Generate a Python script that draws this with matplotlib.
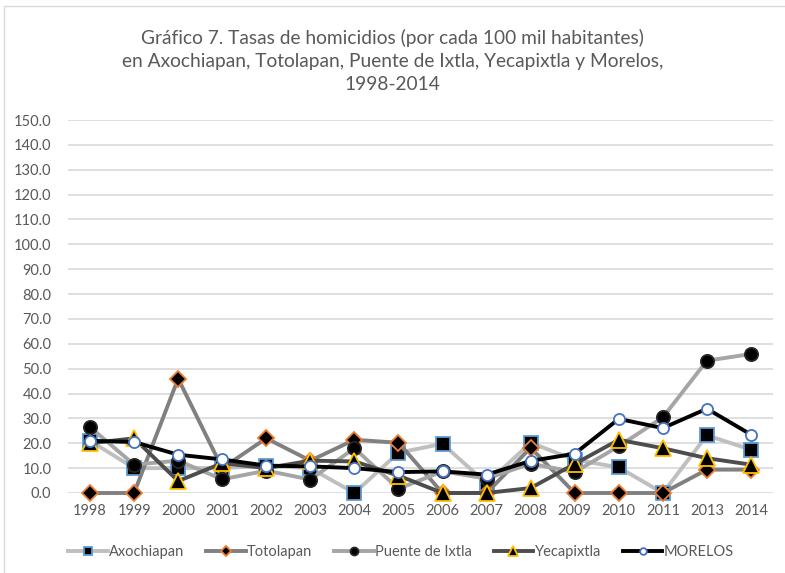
"""
Gráfico 7: tasas de homicidios por municipio, 1998-2014.
"""

import matplotlib
matplotlib.use('Agg')
import matplotlib.pyplot as plt
from matplotlib.patches import Rectangle

# Data
years = ['1998', '1999', '2000', '2001', '2002', '2003', '2004', '2005',
         '2006', '2007', '2008', '2009', '2010', '2011', '2013', '2014']

axochiapan = [21.0, 10.0, 10.0, 10.0, 11.0, 10.0, 0.0, 16.2,
              19.8, 3.8, 20.2, 13.4, 10.3, 0.0, 23.2, 17.4]
totolapan = [0.0, 0.0, 46.0, 10.0, 22.0, 13.0, 21.4, 20.2,
             0.0, 0.0, 18.2, 0.0, 0.0, 0.0, 9.4, 9.4]
puente_de_ixtla = [26.5, 11.4, 13.0, 5.5, 9.0, 5.4, 18.0, 1.7,
                   8.7, 5.8, 11.8, 8.4, 18.8, 30.4, 53.2, 55.9]
yecapixtla = [20.0, 22.0, 4.8, 12.0, 10.0, 13.0, 12.7, 7.0,
              0.0, 0.0, 2.0, 11.7, 21.4, 18.0, 14.0, 11.4]
morelos = [21.0, 20.5, 15.4, 13.5, 11.0, 10.7, 10.0, 8.4,
           8.7, 7.4, 12.9, 15.8, 29.8, 26.1, 33.9, 23.5]

y_ticks = list(range(0, 151, 10))

plt.rcParams['font.family'] = ['Lato', 'DejaVu Sans']

fig = plt.figure(figsize=(7.85, 5.73), dpi=100)
ax = fig.add_axes([68 / 785, 80 / 573, 705 / 785, 373 / 573])

x = list(range(len(years)))

# (values, label, line colour, marker, marker size, face, edge)
series = [
    (axochiapan, 'Axochiapan', '#BFBFBF', 's', 10.5, 'black', '#5B9BD5'),
    (totolapan, 'Totolapan', '#808080', 'D', 8.5, 'black', '#ED7D31'),
    (puente_de_ixtla, 'Puente de Ixtla', '#A5A5A5', 'o', 9.5, 'black', '#262626'),
    (yecapixtla, 'Yecapixtla', '#4D4D4D', '^', 11, 'black', '#FFC000'),
    (morelos, 'MORELOS', 'black', 'o', 8, 'white', '#4472C4'),
]

for i, (vals, label, color, marker, ms, face, edge) in enumerate(series):
    ax.plot(x, vals, color=color, linewidth=2.8, marker=marker, markersize=ms,
            markerfacecolor=face, markeredgecolor=edge, markeredgewidth=1.3,
            label=label, clip_on=False, zorder=3 + i)

ax.set_xlim(-0.5, len(years) - 0.5)
ax.set_ylim(0, 150)
ax.set_xticks(x)
ax.set_xticklabels(years)
ax.set_yticks(y_ticks)
ax.set_yticklabels([f'{v:.1f}' for v in y_ticks])
ax.tick_params(axis='both', length=0, labelsize=10.5, colors='#595959')
ax.tick_params(axis='x', pad=8)
ax.tick_params(axis='y', pad=12)

ax.grid(axis='y', color='#D9D9D9', linewidth=1.2)
ax.set_axisbelow(True)
for side in ['top', 'right', 'left', 'bottom']:
    ax.spines[side].set_visible(False)

fig.text(0.5, 1 - 61 / 573,
         'Gráfico 7. Tasas de homicidios (por cada 100 mil habitantes)\n'
         'en Axochiapan, Totolapan, Puente de Ixtla, Yecapixtla y Morelos,\n'
         '1998-2014',
         ha='center', va='center', fontsize=13.8, color='#595959', linespacing=1.45)

fig.legend(loc='center', bbox_to_anchor=(401 / 785, 1 - 552 / 573), ncol=5,
           frameon=False, fontsize=10.5, labelcolor='#595959', markerscale=0.6,
           handlelength=2.7, handletextpad=0.1, columnspacing=1.5)

# light chart border like the original
fig.patches.append(Rectangle((4 / 785, -0.05), 1.0, 1 - 6 / 573 + 0.05,
                             transform=fig.transFigure, fill=False,
                             edgecolor='#D9D9D9', linewidth=1))

fig.savefig('out.png', dpi=100)
